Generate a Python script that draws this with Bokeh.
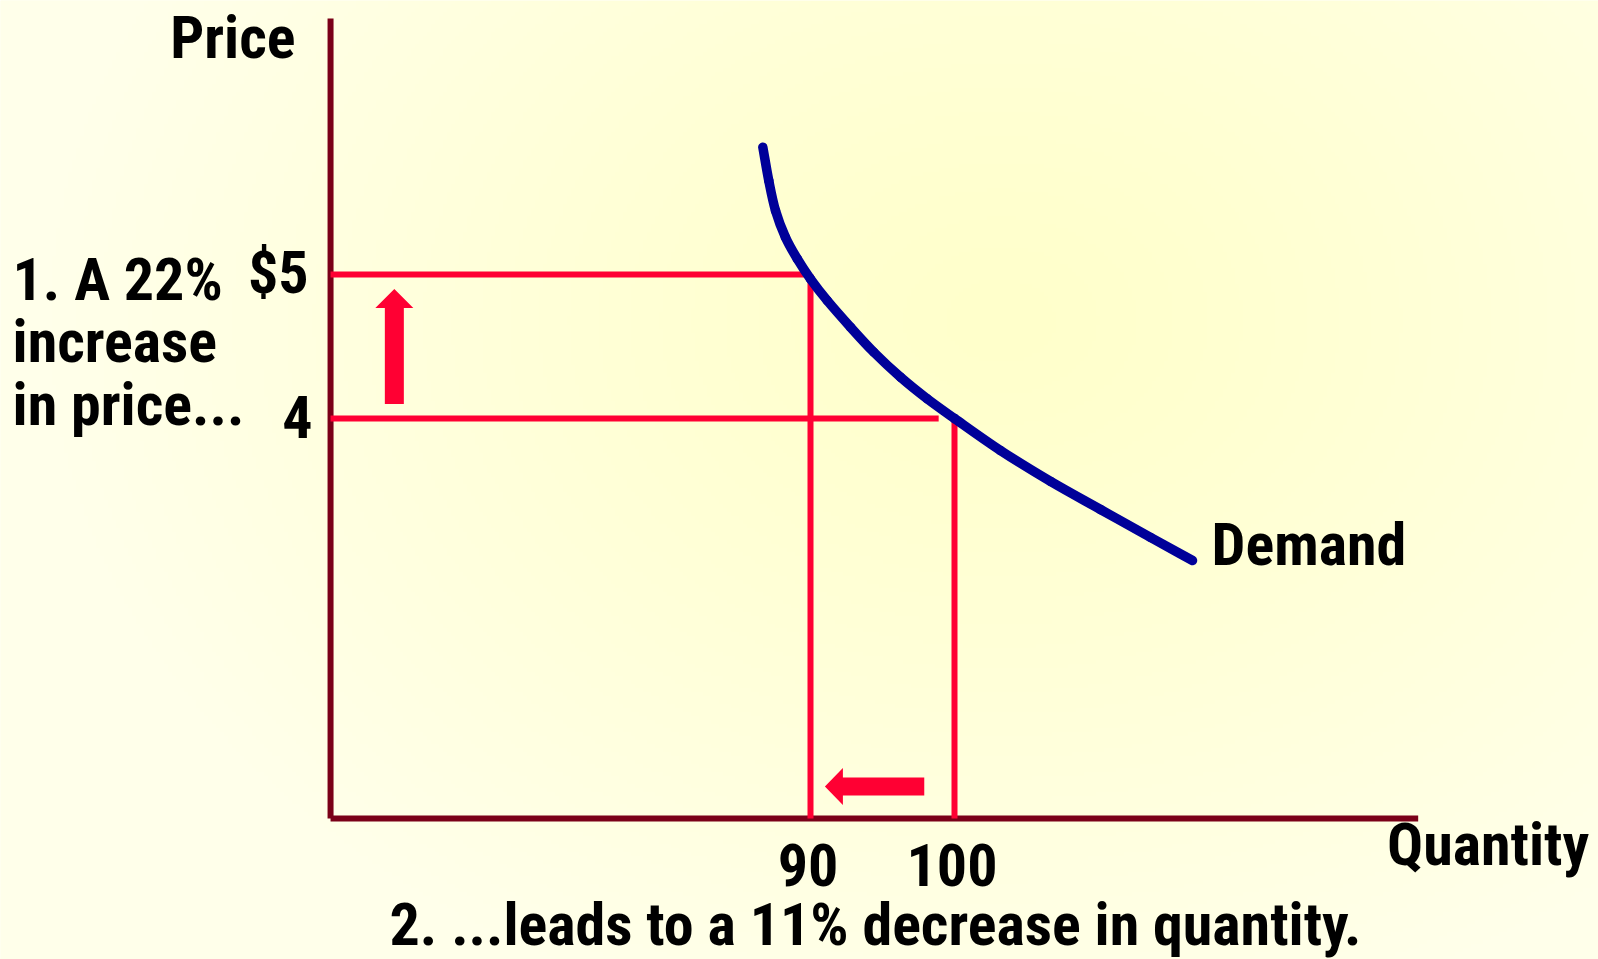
import numpy as np
from bokeh.plotting import figure
from bokeh.models import Range1d
from bokeh.core.properties import value
from bokeh.embed import file_html
from bokeh.resources import INLINE

# ---------------- data ----------------
quantities = [90, 100]
prices = [5, 4]
quantity_labels = ["90", "100"]
price_labels = ["$5", "4"]

demand_q = [86.69, 87.10, 87.57, 88.26, 89.08, 90.00, 91.16, 92.78, 94.40,
            96.25, 98.10, 100.00, 103.19, 106.67, 110.14, 113.61, 116.53]
demand_p = [5.884, 5.653, 5.444, 5.259, 5.109, 4.969, 4.819, 4.634, 4.460,
            4.287, 4.137, 4.000, 3.778, 3.563, 3.368, 3.174, 3.014]

axis_q = [56.67, 132.2]     # extent of the quantity axis
axis_p = [1.222, 6.778]     # extent of the price axis
line4_end_q = 98.9          # the $4 guide stops short of the curve

up_arrow_q = 61.1
up_arrow_p = [4.10, 4.90]   # tail, tip
left_arrow_p = 1.444
left_arrow_q = [97.9, 91.0] # tail, tip

note_price = ["1. A 22%", "increase", "in price..."]
note_quantity = "2. ...leads to a 11% decrease in quantity."

# ---------------- layout / style ----------------
W, H = 1598, 959
XR = (33.75, 144.722)
YR = (0.2431, 6.9028)
PX_X = W / (XR[1] - XR[0])
PX_Y = H / (YR[1] - YR[0])

AXIS_C = "#7A0018"
RED = "#FF0033"
BLUE = "#000099"
FONT = value("Roboto Condensed")
FS = value("60px")

p = figure(width=W, height=H, x_range=Range1d(*XR), y_range=Range1d(*YR),
           output_backend="svg", toolbar_location=None,
           x_axis_location=None, y_axis_location=None, min_border=0)
p.grid.visible = False
p.outline_line_color = None
p.background_fill_color = "#FFFFE6"
p.border_fill_color = "#FFFFE6"

# subtle radial background gradient
ny, nx = 240, 400
ii = (np.arange(nx) + 0.5) / nx
jj = (np.arange(ny) + 0.5) / ny
gx = ii * W
gy = H - jj * H
GX, GY = np.meshgrid(gx, gy)
d = np.sqrt(((GX - 1000) / 950.0) ** 2 + ((GY - 320) / 720.0) ** 2)
t = np.clip(d, 0, 1) ** 1.2
img = np.empty((ny, nx), dtype=np.uint32)
view = img.view(dtype=np.uint8).reshape((ny, nx, 4))
view[..., 0] = 255
view[..., 1] = 255
view[..., 2] = (203 + (234 - 203) * t).astype(np.uint8)
view[..., 3] = 255
p.image_rgba(image=[img], x=XR[0], y=YR[0], dw=XR[1] - XR[0], dh=YR[1] - YR[0])

# axes
p.line([axis_q[0], axis_q[0]], [axis_p[1], axis_p[0]], line_color=AXIS_C, line_width=6, line_cap="butt")
p.line([axis_q[0], axis_q[1]], [axis_p[0], axis_p[0]], line_color=AXIS_C, line_width=6, line_cap="butt")

# guide lines
p.line([axis_q[0], quantities[0]], [prices[0], prices[0]], line_color=RED, line_width=6)
p.line([quantities[0], quantities[0]], [prices[0], axis_p[0]], line_color=RED, line_width=6)
p.line([axis_q[0], line4_end_q], [prices[1], prices[1]], line_color=RED, line_width=6)
p.line([quantities[1], quantities[1]], [prices[1], axis_p[0]], line_color=RED, line_width=6)

# demand curve: smooth cubic segments through the read points (Catmull-Rom tangents)
q = np.array(demand_q, dtype=float)
pr = np.array(demand_p, dtype=float)
n = len(q)
qp = np.concatenate([[2 * q[0] - q[1]], q, [2 * q[-1] - q[-2]]])
pp = np.concatenate([[2 * pr[0] - pr[1]], pr, [2 * pr[-1] - pr[-2]]])
x0, y0 = q[:-1], pr[:-1]
x1, y1 = q[1:], pr[1:]
cx0 = x0 + (qp[2:n + 1] - qp[0:n - 1]) / 6.0
cy0 = y0 + (pp[2:n + 1] - pp[0:n - 1]) / 6.0
cx1 = x1 - (qp[3:n + 2] - qp[1:n]) / 6.0
cy1 = y1 - (pp[3:n + 2] - pp[1:n]) / 6.0
p.bezier(x0=x0, y0=y0, x1=x1, y1=y1, cx0=cx0, cy0=cy0, cx1=cx1, cy1=cy1,
         line_color=BLUE, line_width=9.5, line_cap="round")

# arrows (polygons built from the arrow specs, sizes in pixels)
def v_arrow(qv, tail, tip, head_len, head_half, shaft_half):
    hl = head_len / PX_Y
    hw = head_half / PX_X
    sw = shaft_half / PX_X
    base = tip - hl
    return ([qv - sw, qv - sw, qv - hw, qv, qv + hw, qv + sw, qv + sw],
            [tail, base, base, tip, base, base, tail])

def h_arrow(pv, tail, tip, head_len, head_half, shaft_half):
    hl = head_len / PX_X
    hw = head_half / PX_Y
    sw = shaft_half / PX_Y
    base = tip + hl if tip < tail else tip - hl
    return ([tail, base, base, tip, base, base, tail],
            [pv - sw, pv - sw, pv - hw, pv, pv + hw, pv + sw, pv + sw])

ux, uy = v_arrow(up_arrow_q, up_arrow_p[0], up_arrow_p[1], 19, 19, 9.5)
lx, ly = h_arrow(left_arrow_p, left_arrow_q[0], left_arrow_q[1], 18, 18.5, 9)
p.patches([ux, lx], [uy, ly], fill_color=RED, line_color=None)

common = dict(text_font=FONT, text_font_size=FS, text_font_style="bold", text_color="black")

# tick labels
p.text(x=[axis_q[0]], y=[prices[0]], text=[price_labels[0]], text_align="right",
       text_baseline="alphabetic", x_offset=-22, y_offset=-2, **common)
p.text(x=[axis_q[0]], y=[prices[1]], text=[price_labels[1]], text_align="right",
       text_baseline="alphabetic", x_offset=-18, y_offset=-2, **common)
p.text(x=quantities, y=[axis_p[0]] * 2, text=quantity_labels, text_align="center",
       text_baseline="alphabetic", x_offset=-2.5, y_offset=46, **common)

# axis titles
p.text(x=[axis_q[0]], y=[axis_p[1]], text=["Price"], text_align="right",
       text_baseline="alphabetic", x_offset=-35, y_offset=19, **common)
p.text(x=[axis_q[1]], y=[axis_p[0]], text=["Quantity"], text_align="right",
       text_baseline="alphabetic", x_offset=171, y_offset=26, **common)

# curve label
p.text(x=[demand_q[-1]], y=[demand_p[-1]], text=["Demand"], text_align="left",
       text_baseline="alphabetic", x_offset=19, y_offset=-16, **common)

# notes
p.text(x=[axis_q[0]] * 3, y=[prices[0]] * 3, text=note_price, text_align="left",
       text_baseline="alphabetic", x_offset=-318, y_offset=[5, 67, 130], **common)
p.text(x=[axis_q[0]], y=[axis_p[0]], text=[note_quantity], text_align="left",
       text_baseline="alphabetic", x_offset=59, y_offset=106, **common)

open("out.html", "w").write(file_html(p, INLINE))
